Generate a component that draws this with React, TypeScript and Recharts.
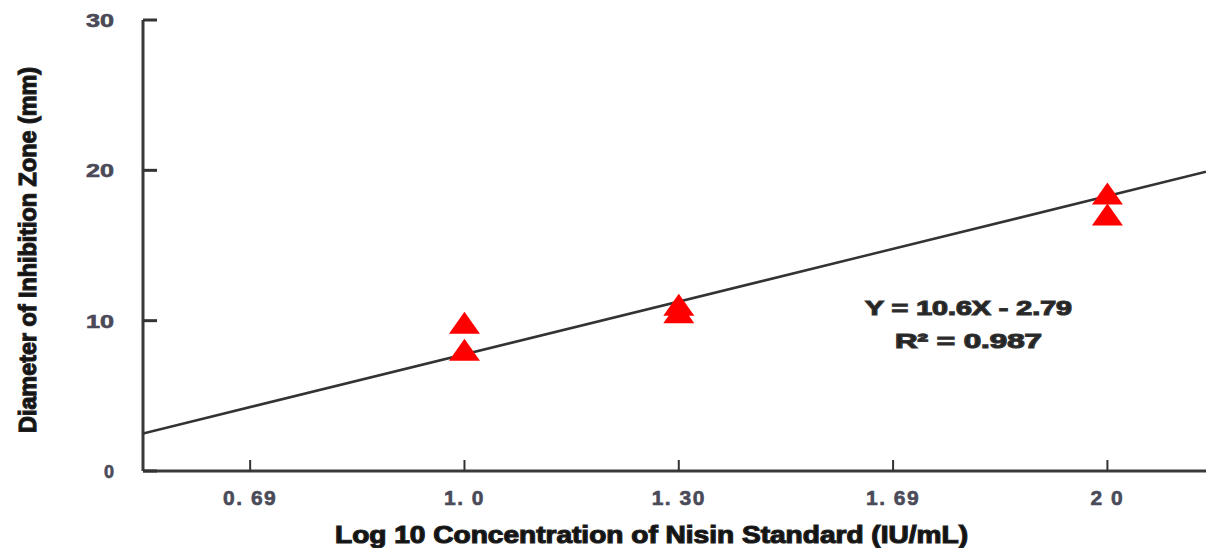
import React from 'react';
import { ComposedChart, Scatter, XAxis, YAxis } from 'recharts';

// Categories on the x axis (evenly spaced positions 0..4)
const xTickLabels = ['0. 69', '1. 0', '1. 30', '1. 69', '2 0'];
const xTickPositions = [0, 1, 2, 3, 4];
const yTicks = [0, 10, 20, 30];

// Measured points (triangles)
const pointX = [1, 1, 2, 2, 4, 4];
const pointY = [9.8, 8.0, 11.0, 10.5, 18.4, 17.0];

// Regression line end points
const lineX = [-0.5, 4.46];
const lineY = [2.5, 19.9];

const points = pointX.map((x, i) => ({ x, y: pointY[i] }));
const fitLine = lineX.map((x, i) => ({ x, y: lineY[i] }));

const FONT = '"Liberation Sans", Arial, sans-serif';

const XTick = (props: any) => {
  const { x, y, payload } = props;
  const label = xTickLabels[xTickPositions.indexOf(payload.value)] ?? '';
  return (
    <g>
      <line x1={x} x2={x} y1={y} y2={y - 11} stroke="#333" strokeWidth={2} />
      <text
        x={x}
        y={y + 34}
        textAnchor="middle"
        fontFamily={FONT}
        fontWeight="bold"
        fontSize={21}
        letterSpacing={1.5}
        fill="#4a4a58"
        stroke="#4a4a58"
        strokeWidth={0.6}
      >
        {label}
      </text>
    </g>
  );
};

const YTick = (props: any) => {
  const { x, y, payload } = props;
  const s = String(payload.value);
  return (
    <g>
      <line x1={x} x2={x + 14} y1={y} y2={y} stroke="#333" strokeWidth={3} />
      <text
        x={114}
        y={y + 7}
        textAnchor="end"
        fontFamily={FONT}
        fontWeight="bold"
        fontSize={18}
        fill="#4a4a58"
        stroke="#4a4a58"
        strokeWidth={0.6}
        {...(s.length > 1 ? { textLength: 28, lengthAdjust: 'spacingAndGlyphs' } : {})}
      >
        {s}
      </text>
    </g>
  );
};

const Triangle = (props: any) => {
  const { cx, cy } = props;
  if (cx == null || cy == null) return <g />;
  return (
    <polygon
      points={`${cx},${cy - 12} ${cx - 15.5},${cy + 10} ${cx + 15.5},${cy + 10}`}
      fill="#ff0000"
    />
  );
};

const NoDot = () => <g />;

export default function App() {
  return (
    <div style={{ position: 'absolute', left: 0, top: 0, width: 1206, height: 548, background: '#fff' }}>
      <ComposedChart
        width={1206}
        height={548}
        margin={{ top: 20, right: 0, bottom: 47, left: 83 }}
      >
        <XAxis
          type="number"
          dataKey="x"
          domain={[lineX[0], lineX[1]]}
          allowDataOverflow
          ticks={xTickPositions}
          tick={<XTick />}
          tickLine={false}
          tickSize={0}
          tickMargin={0}
          height={30}
          axisLine={{ stroke: '#3a3a3a', strokeWidth: 3 }}
        />
        <YAxis
          type="number"
          dataKey="y"
          domain={[0, 30]}
          allowDataOverflow
          ticks={yTicks}
          tick={<YTick />}
          tickLine={false}
          tickSize={0}
          tickMargin={0}
          width={60}
          axisLine={{ stroke: '#3a3a3a', strokeWidth: 3 }}
        />
        <Scatter
          data={fitLine}
          line={{ stroke: '#333', strokeWidth: 2.5 }}
          shape={<NoDot />}
          isAnimationActive={false}
        />
        <Scatter data={points} shape={<Triangle />} isAnimationActive={false} />
      </ComposedChart>
      <svg
        width={1206}
        height={548}
        style={{ position: 'absolute', left: 0, top: 0, pointerEvents: 'none' }}
      >
        <text
          x={335}
          y={543}
          fontFamily={FONT}
          fontWeight="bold"
          fontSize={24}
          fill="#111"
          stroke="#222"
          strokeWidth={1.2}
          textLength={633}
          lengthAdjust="spacingAndGlyphs"
        >
          Log 10 Concentration of Nisin Standard  (IU/mL)
        </text>
        <text
          x={36}
          y={250}
          transform="rotate(-90, 36, 250)"
          textAnchor="middle"
          fontFamily={FONT}
          fontWeight="bold"
          fontSize={23}
          fill="#111"
          stroke="#222"
          strokeWidth={1.2}
          textLength={366}
          lengthAdjust="spacingAndGlyphs"
        >
          Diameter of Inhibition Zone (mm)
        </text>
        <text
          x={865}
          y={315}
          fontFamily={FONT}
          fontWeight="bold"
          fontSize={20}
          fill="#222"
          stroke="#333"
          strokeWidth={1.2}
          textLength={207}
          lengthAdjust="spacingAndGlyphs"
        >
          Y = 10.6X - 2.79
        </text>
        <text
          x={895}
          y={348}
          fontFamily={FONT}
          fontWeight="bold"
          fontSize={20}
          fill="#222"
          stroke="#333"
          strokeWidth={1.2}
          textLength={147}
          lengthAdjust="spacingAndGlyphs"
        >
          R² = 0.987
        </text>
      </svg>
    </div>
  );
}
